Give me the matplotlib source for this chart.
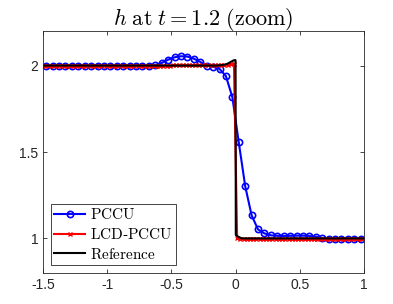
import numpy as np
import matplotlib
matplotlib.use("Agg")
import matplotlib.pyplot as plt

plt.rcParams['mathtext.fontset'] = 'cm'
plt.rcParams['font.family'] = ['Liberation Sans', 'DejaVu Sans']

# PCCU (celulas de 0.05)
pccu_x = np.arange(-1.475, 1.0, 0.05)
pccu_y = [2.0, 2.0, 2.0, 2.0, 2.0, 2.0, 2.0, 2.0, 2.0, 2.0,
          2.0, 2.0, 2.0, 2.0, 2.0, 2.0, 2.0, 2.003, 2.015, 2.034,
          2.048, 2.054, 2.052, 2.04, 2.021, 2.0, 1.993, 1.981, 1.939, 1.818,
          1.556, 1.303, 1.134, 1.052, 1.029, 1.018, 1.015, 1.014, 1.015, 1.016,
          1.016, 1.014, 1.01, 1.002, 0.997, 0.995, 0.995, 0.996, 0.996, 0.997]

# LCD-PCCU (celulas de 0.025)
lcd_x = np.arange(-1.4875, 1.0, 0.025)
lcd_y = [2.0, 2.0, 2.0, 2.0, 2.0, 2.0, 2.0, 2.0, 2.0, 2.0,
         2.0, 2.0, 2.0, 2.0, 2.0, 2.0, 2.0, 2.0, 2.0, 2.0,
         2.0, 2.0, 2.0, 2.0, 2.0, 2.0, 2.0, 2.0, 2.0, 2.0,
         2.0, 2.0, 2.0, 2.0, 2.0, 2.0, 2.0, 2.0, 2.0, 2.0,
         2.002, 2.003, 2.003, 2.003, 2.003, 2.003, 2.003, 2.003, 2.003, 2.003,
         2.003, 2.003, 2.003, 2.003, 2.004, 2.004, 2.004, 2.005, 2.007, 2.012,
         1.0, 0.998, 0.998, 0.998, 0.998, 0.998, 0.998, 0.998, 0.998, 0.998,
         0.998, 0.998, 0.998, 0.998, 0.998, 0.998, 0.998, 0.998, 0.998, 0.998,
         0.998, 0.998, 0.998, 0.998, 0.998, 0.998, 0.998, 0.998, 0.998, 0.998,
         0.998, 0.998, 0.998, 0.998, 0.998, 0.998, 0.998, 0.998, 0.998, 0.998]

# solucao de referencia
ref_x = [-1.5, -0.15, -0.1, -0.07, -0.05, -0.03, -0.015, -0.003, 0.0, 0.002, 0.02, 0.05, 1.0]
ref_y = [2.0, 2.0, 2.003, 2.008, 2.016, 2.024, 2.03, 2.032, 2.03, 1.02, 1.01, 1.0, 1.0]

fig = plt.figure(figsize=(3.93, 3.04), dpi=100)
ax = fig.add_axes([0.1094, 0.102, 0.8166, 0.796])

ax.plot(pccu_x, pccu_y, '-o', color='blue', lw=1.5, ms=4.5, mew=1.2,
        mfc='none', label=r'$\mathrm{PCCU}$')
ax.plot(lcd_x, lcd_y, '-x', color='red', lw=1.5, ms=2.5, mew=1.0,
        label=r'$\mathrm{LCD}$-$\mathrm{PCCU}$')
ax.plot(ref_x, ref_y, '-', color='black', lw=1.5, label=r'$\mathrm{Reference}$')

ax.set_xlim(-1.5, 1)
ax.set_ylim(0.8, 2.2)
ax.set_xticks([-1.5, -1, -0.5, 0, 0.5, 1])
ax.set_xticklabels(['-1.5', '-1', '-0.5', '0', '0.5', '1'])
ax.set_yticks([1, 1.5, 2])
ax.set_yticklabels(['1', '1.5', '2'])
ax.tick_params(direction='in', top=True, right=True, length=3,
               color='#262626', labelsize=10, width=0.6, labelcolor='#262626')
for s in ax.spines.values():
    s.set_color('#262626')
    s.set_linewidth(0.6)

ax.set_title(r'$h$ $\mathrm{at}$ $t=1.2$ $\mathrm{(zoom)}$', fontsize=16, pad=4)

leg = ax.legend(loc='lower left', fontsize=11, handlelength=2.0,
                borderaxespad=0.5, borderpad=0.25, labelspacing=0.3,
                handletextpad=0.3, fancybox=False, framealpha=1)
leg.get_frame().set_edgecolor('#262626')
leg.get_frame().set_linewidth(0.6)

fig.savefig('out.png', dpi=100)
